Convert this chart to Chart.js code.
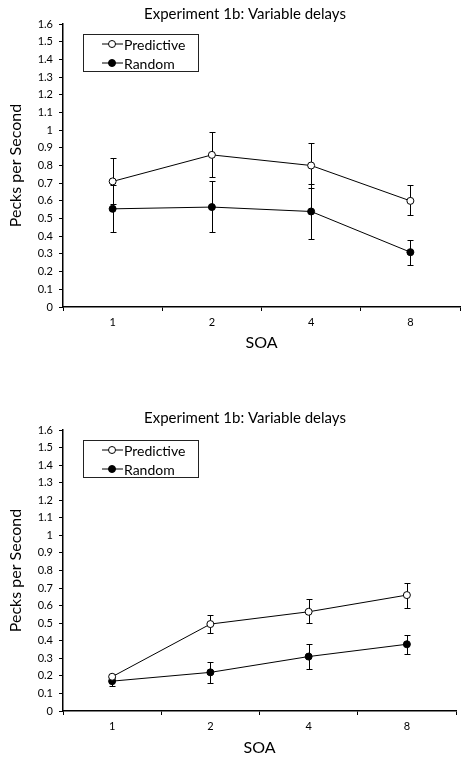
<!DOCTYPE html>
<html lang="en">
<head>
<meta charset="UTF-8">
<title>Experiment 1b: Variable delays</title>
<script src="https://cdn.jsdelivr.net/npm/chart.js"></script>
<style>
  html, body { margin: 0; padding: 0; background: #fff; }
  .panel { position: absolute; left: 0; width: 468px; }
  #top { top: 0; height: 380px; }
  #bottom { top: 380px; height: 381px; }
</style>
</head>
<body>
<div class="panel" id="top"><canvas id="chartTop" width="468" height="380"></canvas></div>
<div class="panel" id="bottom"><canvas id="chartBottom" width="468" height="381"></canvas></div>

<script>
const chartTitle = 'Experiment 1b: Variable delays';
const soaLabels = ['1', '2', '4', '8'];
const seriesNames = ['Predictive', 'Random'];
const yMin = 0, yMax = 1.6, yStep = 0.1;

// upper panel: means and error bar ends
const topPredictive = [0.71, 0.86, 0.80, 0.60];
const topPredictiveLow = [0.58, 0.735, 0.67, 0.52];
const topPredictiveHigh = [0.84, 0.99, 0.925, 0.69];
const topRandom = [0.555, 0.565, 0.54, 0.31];
const topRandomLow = [0.425, 0.425, 0.385, 0.235];
const topRandomHigh = [0.69, 0.715, 0.695, 0.38];

// lower panel
const botPredictive = [0.195, 0.495, 0.565, 0.66];
const botPredictiveLow = [0.175, 0.445, 0.50, 0.585];
const botPredictiveHigh = [0.21, 0.545, 0.635, 0.73];
const botRandom = [0.17, 0.22, 0.31, 0.38];
const botRandomLow = [0.142, 0.16, 0.237, 0.327];
const botRandomHigh = [0.19, 0.28, 0.38, 0.435];

const FONT = 'Lato, "Open Sans", sans-serif';
Chart.defaults.font.family = FONT;
Chart.defaults.color = '#000';

// vertical error bars with caps, drawn under the markers
const errorBars = {
    id: 'errorBars',
    beforeDatasetsDraw(chart) {
        const ctx = chart.ctx;
        const y = chart.scales.y;
        ctx.save();
        ctx.strokeStyle = '#000';
        ctx.lineWidth = 1;
        chart.data.datasets.forEach((ds, i) => {
            chart.getDatasetMeta(i).data.forEach((pt, j) => {
                const x = Math.round(pt.x) + 0.5;
                const yl = Math.round(y.getPixelForValue(ds.errLow[j])) + 0.5;
                const yh = Math.round(y.getPixelForValue(ds.errHigh[j])) + 0.5;
                ctx.beginPath();
                ctx.moveTo(x, yl); ctx.lineTo(x, yh);
                ctx.moveTo(x - 3, yl); ctx.lineTo(x + 3, yl);
                ctx.moveTo(x - 3, yh); ctx.lineTo(x + 3, yh);
                ctx.stroke();
            });
        });
        ctx.restore();
    }
};

// boxed legend in the top-left corner of the plot
const boxLegend = {
    id: 'boxLegend',
    afterDraw(chart) {
        const ctx = chart.ctx;
        const a = chart.chartArea;
        const bx = a.left + 20, by = a.top + 10;
        ctx.save();
        ctx.fillStyle = '#fff';
        ctx.fillRect(bx, by, 115, 37);
        ctx.strokeStyle = '#222';
        ctx.lineWidth = 1;
        ctx.strokeRect(bx + 0.5, by + 0.5, 115, 37);
        chart.data.datasets.forEach((ds, i) => {
            const cy = a.top + 20 + i * 19;
            const cx = a.left + 49;
            ctx.strokeStyle = '#000';
            ctx.beginPath();
            ctx.moveTo(a.left + 39, cy);
            ctx.lineTo(a.left + 60, cy);
            ctx.stroke();
            ctx.beginPath();
            ctx.arc(cx, cy, 3.5, 0, Math.PI * 2);
            ctx.fillStyle = ds.pointBackgroundColor;
            ctx.fill();
            ctx.stroke();
            ctx.fillStyle = '#000';
            ctx.font = '14px ' + FONT;
            ctx.textBaseline = 'middle';
            ctx.fillText(ds.label, a.left + 61, cy + 1);
        });
        ctx.restore();
    }
};

function makeChart(id, series, lay) {
    const fills = ['#fff', '#000'];
    const datasets = series.map((s, i) => ({
        label: seriesNames[i],
        data: s.mean,
        errLow: s.low,
        errHigh: s.high,
        borderColor: '#000',
        borderWidth: 1,
        pointRadius: 3.5,
        pointHoverRadius: 3.5,
        pointBorderWidth: 1,
        pointBorderColor: '#000',
        pointBackgroundColor: fills[i],
        tension: 0
    }));

    // the left padding only shifts the title centre; the y scale still ends at x = 63
    return new Chart(document.getElementById(id), {
        type: 'line',
        data: { labels: soaLabels, datasets: datasets },
        options: {
            responsive: false,
            animation: false,
            layout: { padding: { left: lay.left, right: lay.right, top: 0, bottom: 0 } },
            plugins: {
                legend: { display: false },
                tooltip: { enabled: false },
                title: {
                    display: true,
                    text: chartTitle,
                    color: '#000',
                    font: { size: 15, weight: 'normal' },
                    padding: { top: lay.titleTop, bottom: lay.titleBottom }
                }
            },
            scales: {
                x: {
                    offset: true,
                    grid: { offset: true, drawOnChartArea: false, drawTicks: true, tickLength: 4, color: '#000' },
                    border: { color: '#000', width: 1.5 },
                    ticks: { font: { size: 11 }, padding: 5, color: '#000' },
                    title: {
                        display: true,
                        text: 'SOA',
                        font: { size: 16 },
                        padding: { top: 0, bottom: lay.soaPad }
                    },
                    afterFit: (scale) => { scale.height = lay.xHeight; }
                },
                y: {
                    min: yMin,
                    max: yMax,
                    grid: { drawOnChartArea: false, drawTicks: true, tickLength: 4, color: '#000' },
                    border: { color: '#000', width: 1.5 },
                    ticks: {
                        stepSize: yStep,
                        font: { size: 11 },
                        padding: 6,
                        color: '#000',
                        callback: (v) => String(+v.toFixed(1))
                    },
                    title: {
                        display: true,
                        text: 'Pecks per Second',
                        font: { size: 16 },
                        padding: { top: 6 - lay.left, bottom: 0 }
                    },
                    afterFit: (scale) => { scale.width = 63 - lay.left; }
                }
            }
        },
        plugins: [errorBars, boxLegend]
    });
}

makeChart('chartTop', [
    { mean: topPredictive, low: topPredictiveLow, high: topPredictiveHigh },
    { mean: topRandom, low: topRandomLow, high: topRandomHigh }
], { left: 30, right: 8, titleTop: 5, titleBottom: 1, xHeight: 73, soaPad: 28 });

makeChart('chartBottom', [
    { mean: botPredictive, low: botPredictiveLow, high: botPredictiveHigh },
    { mean: botRandom, low: botRandomLow, high: botRandomHigh }
], { left: 34, right: 12, titleTop: 29, titleBottom: 3, xHeight: 50, soaPad: 4 });
</script>
</body>
</html>
